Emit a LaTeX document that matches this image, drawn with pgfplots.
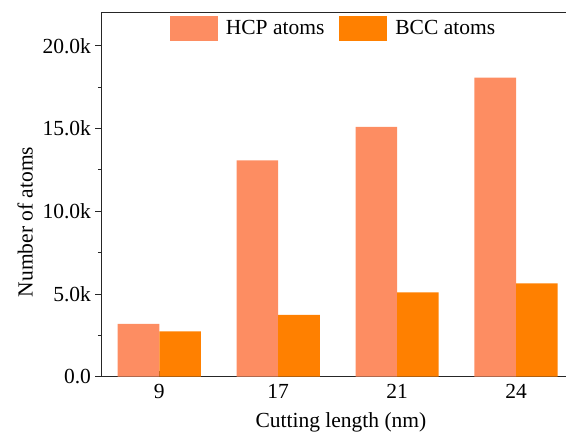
\documentclass[border=0pt]{standalone}
\usepackage{fontspec}
\setmainfont{Liberation Serif}
\usepackage{pgfplots}
\pgfplotsset{compat=1.18}

\definecolor{hcp}{RGB}{253,141,98}
\definecolor{bcc}{RGB}{255,128,0}

\begin{document}
\begin{tikzpicture}
\path[use as bounding box] (0,0) rectangle (566pt,436pt);
\clip (0,0) rectangle (566pt,436pt);
\begin{axis}[
    at={(101pt,59.3pt)}, anchor=south west,
    scale only axis,
    width=465pt, height=364pt,
    font=\fontsize{21.5}{25}\selectfont,
    /pgf/number format/assume math mode=true,
    scaled y ticks=false,
    axis x line*=box, axis y line*=left,
    axis line style={line width=0.8pt, black!85},
    ybar=0pt, bar width=0.35,
    xmin=-0.49, xmax=3.42,
    ymin=0, ymax=22000,
    xtick={0,1,2,3}, xticklabels={9,17,21,24},
    x tick style={line width=0.8pt, black!85},
    xtick align=inside, xtick pos=bottom,
    ytick={0,5000,10000,15000,20000},
    yticklabels={0.0,5.0k,10.0k,15.0k,20.0k},
    minor ytick={2500,7500,12500,17500},
    ytick align=outside, ytick pos=left,
    y tick style={line width=0.8pt, black!85},
    major tick length=5.5pt, minor tick length=3pt,
    x tick label style={yshift=-4pt},
    y tick label style={xshift=-1pt},
    xlabel={Cutting length (nm)},
    ylabel={Number of atoms},
    xlabel style={at={(axis description cs:0.516,-0.126)}, anchor=center},
    ylabel style={at={(axis description cs:-0.163,0.425)}, anchor=center, rotate=0},
    legend columns=2,
    legend style={at={(axis description cs:0.5,0.997)}, anchor=north,
        draw=none, fill=none, font=\fontsize{21.5}{25}\selectfont,
        /tikz/every odd column/.append style={column sep=6pt},
        /tikz/every even column/.append style={column sep=13pt}},
    legend image code/.code={\fill[#1] (0pt,-12.5pt) rectangle (48pt,12.5pt);},
]
\addplot[fill=hcp, draw=none] coordinates {(0,3200) (1,13080) (2,15100) (3,18070)};
\addlegendentry{HCP atoms}
\addplot[fill=bcc, draw=none] coordinates {(0,2740) (1,3730) (2,5100) (3,5640)};
\addlegendentry{BCC atoms}
\end{axis}
\end{tikzpicture}
\end{document}
